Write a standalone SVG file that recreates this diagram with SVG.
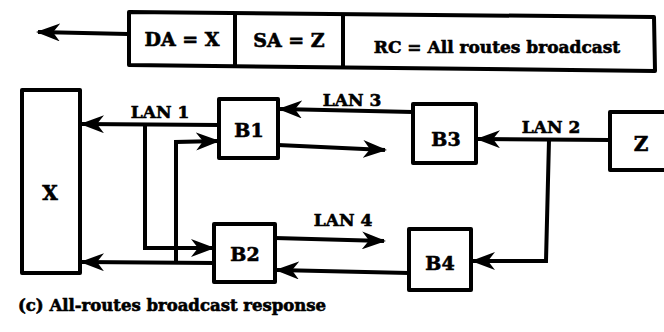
<svg xmlns="http://www.w3.org/2000/svg" width="664" height="332" viewBox="0 0 664 332">
<style>
.box{fill:#fff;stroke:#000;stroke-width:4;stroke-linejoin:round}
.ln{fill:none;stroke:#000;stroke-width:4;stroke-linejoin:miter}
.t{font-family:"DejaVu Serif","Liberation Serif",serif;font-weight:bold;fill:#000;stroke:#000;stroke-width:0.6}
</style>
<defs>
<marker id="ah" markerUnits="userSpaceOnUse" markerWidth="24" markerHeight="18" viewBox="0 0 24 18" refX="22" refY="9" orient="auto">
<path d="M0,0 L24,9 L0,18 L7,9 z" fill="#000"/>
</marker>
</defs>
<rect width="664" height="332" fill="#fff"/>
<g id="frame">
<polygon class="box" points="129,12 654,17 655,71 129,65"/>
<line class="ln" x1="235" y1="13" x2="235" y2="66"/>
<line class="ln" x1="343" y1="14" x2="343" y2="67"/>
<text class="t" x="182" y="46" font-size="19" text-anchor="middle">DA = X</text>
<text class="t" x="289" y="47" font-size="19" text-anchor="middle">SA = Z</text>
<text class="t" x="497" y="53" font-size="17" text-anchor="middle">RC = All routes broadcast</text>
</g>
<g id="X"><rect class="box" x="22" y="90" width="58" height="183"/><text class="t" x="50" y="200" font-size="20" text-anchor="middle">X</text></g>
<g id="B1"><rect class="box" x="219" y="99" width="59" height="59"/><text class="t" x="249" y="137" font-size="19" text-anchor="middle">B1</text></g>
<g id="B2"><rect class="box" x="214" y="224" width="61" height="58"/><text class="t" x="245" y="261" font-size="19" text-anchor="middle">B2</text></g>
<g id="B3"><rect class="box" x="413" y="104" width="63" height="59"/><text class="t" x="446" y="146" font-size="19" text-anchor="middle">B3</text></g>
<g id="B4"><rect class="box" x="409" y="229" width="62" height="61"/><text class="t" x="440" y="270" font-size="19" text-anchor="middle">B4</text></g>
<g id="Z"><rect class="box" x="610" y="112" width="60" height="58"/><text class="t" x="641" y="151" font-size="20" text-anchor="middle">Z</text></g>
<g id="connectors">
<path class="ln" d="M128,34 L38,32" marker-end="url(#ah)"/>
<path class="ln" d="M219,125 L82,124" marker-end="url(#ah)"/>
<path class="ln" d="M145,124 L145,248 L213,248" marker-end="url(#ah)"/>
<path class="ln" d="M214,263 L82,262" marker-end="url(#ah)"/>
<path class="ln" d="M176,262 L176,142 L218,141" marker-end="url(#ah)"/>
<path class="ln" d="M278,145 L385,150" marker-end="url(#ah)"/>
<path class="ln" d="M413,112 L280,109" marker-end="url(#ah)"/>
<path class="ln" d="M610,140 L478,139" marker-end="url(#ah)"/>
<path class="ln" d="M549,140 L546,261 L473,261" marker-end="url(#ah)"/>
<path class="ln" d="M275,238 L384,241" marker-end="url(#ah)"/>
<path class="ln" d="M409,273 L277,270" marker-end="url(#ah)"/>
</g>
<g id="labels">
<text class="t" x="160" y="118" font-size="17" text-anchor="middle">LAN 1</text>
<text class="t" x="352" y="106" font-size="17" text-anchor="middle">LAN 3</text>
<text class="t" x="551" y="133" font-size="17" text-anchor="middle">LAN 2</text>
<text class="t" x="343" y="226" font-size="17" text-anchor="middle">LAN 4</text>
<text class="t" x="18" y="311" font-size="16.5">(c) All-routes broadcast response</text>
</g>
</svg>
